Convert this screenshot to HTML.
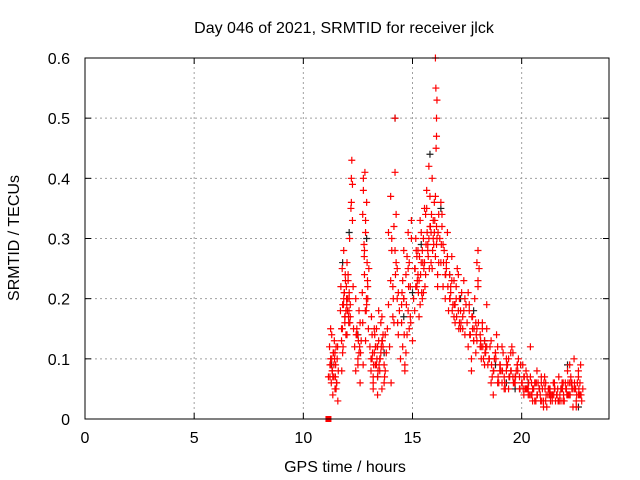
<!DOCTYPE html>
<html><head><meta charset="utf-8"><style>
body{margin:0;background:#fff}
svg{display:block;font-family:"Liberation Sans",sans-serif}
</style></head><body>
<svg id="chart" width="640" height="480">
<rect width="640" height="480" fill="#fff"/>
<text x="344" y="33" font-size="16" text-anchor="middle" fill="#000">Day 046 of 2021, SRMTID for receiver jlck</text>
<text x="345" y="472" font-size="16" text-anchor="middle">GPS time / hours</text>
<text transform="translate(19,238) rotate(-90)" font-size="16" text-anchor="middle">SRMTID / TECUs</text>
<g id="grid"></g><g id="ticks"></g><g id="marks"></g>
<rect x="85" y="58" width="524" height="361" fill="none" stroke="#000" stroke-width="1"/>
</svg>
<script>
const xTicks=[0,5,10,15,20];
const yTicks=[0,0.1,0.2,0.3,0.4,0.5,0.6];
const yTickLabels=["0","0.1","0.2","0.3","0.4","0.5","0.6"];
const redTimes=[11.15,11.2,11.22,11.25,11.28,11.3,11.32,11.35,11.38,11.4,11.42,11.45,11.48,11.5,11.52,11.55,11.58,11.6,11.3,11.35,11.45,11.5,11.25,11.4,
11.7,11.72,11.75,11.78,11.8,11.82,11.85,11.88,11.9,11.92,11.95,11.98,12.0,12.02,12.05,12.08,12.1,12.12,12.15,12.18,12.2,12.22,12.25,12.28,12.3,11.75,11.85,11.95,12.05,12.15,12.2,12.25,11.8,11.9,12.0,12.1,
12.35,12.4,12.45,12.5,12.55,12.6,12.65,12.4,12.5,12.6,12.45,12.55,
12.7,12.72,12.75,12.78,12.8,12.82,12.85,12.88,12.9,12.92,12.95,12.98,13.0,12.75,12.85,12.95,12.8,12.9,12.72,12.85,
13.05,13.1,13.15,13.2,13.25,13.3,13.35,13.4,13.45,13.5,13.55,13.6,13.65,13.7,13.75,13.8,13.1,13.2,13.3,13.4,13.5,13.6,13.7,13.15,13.25,13.35,13.45,13.55,13.65,13.75,13.2,13.4,13.6,
13.85,13.9,13.95,14.0,14.05,14.1,14.15,14.2,14.25,14.3,14.35,14.4,13.9,14.0,14.1,14.2,14.3,14.05,14.15,14.25,14.35,14.2,
14.45,14.5,14.55,14.6,14.65,14.7,14.75,14.8,14.85,14.9,14.95,15.0,14.5,14.6,14.7,14.8,14.9,14.55,14.65,14.75,14.85,14.95,14.6,14.8,
15.05,15.1,15.15,15.2,15.25,15.3,15.35,15.4,15.45,15.5,15.55,15.6,15.65,15.7,15.75,15.8,15.85,15.9,15.95,16.0,16.05,16.1,16.15,16.2,15.1,15.2,15.3,15.4,15.5,15.6,15.7,15.8,15.9,16.0,16.1,16.2,15.15,15.35,15.55,15.75,15.95,16.15,15.25,15.45,15.65,15.85,16.05,
16.05,16.07,16.1,16.1,16.12,16.08,
16.25,16.3,16.35,16.4,16.45,16.5,16.55,16.6,16.65,16.7,16.75,16.8,16.85,16.9,16.95,17.0,17.05,17.1,17.15,17.2,17.25,17.3,17.35,17.4,17.45,16.3,16.4,16.5,16.6,16.7,16.8,16.9,17.0,17.1,17.2,17.3,17.4,16.35,16.55,16.75,16.95,17.15,17.35,
17.5,17.55,17.6,17.65,17.7,17.75,17.8,17.85,17.9,17.95,18.0,18.05,18.1,18.15,18.2,18.25,18.3,18.35,18.4,18.45,17.6,17.7,17.8,17.9,18.0,18.1,18.2,18.3,18.4,17.95,18.0,18.4,17.55,17.75,17.95,18.15,18.35,
18.5,18.6,18.7,18.8,18.9,19.0,19.1,19.2,19.3,19.4,19.5,19.6,19.7,19.8,19.9,18.55,18.65,18.75,18.85,18.95,19.05,19.15,19.25,19.35,19.45,19.55,19.65,19.75,19.85,19.95,18.6,18.8,19.0,19.2,19.4,19.6,19.8,18.7,18.9,19.1,19.3,19.5,19.7,19.9,
20.0,20.1,20.2,20.3,20.4,20.5,20.6,20.7,20.8,20.9,21.0,21.1,21.2,21.3,21.4,21.5,21.6,21.7,21.8,21.9,22.0,22.1,22.2,22.3,22.4,22.5,22.6,22.7,22.8,20.05,20.15,20.25,20.35,20.45,20.55,20.65,20.75,20.85,20.95,21.05,21.15,21.25,21.35,21.45,21.55,21.65,21.75,21.85,21.95,22.05,22.15,22.25,22.35,22.45,22.55,22.65,22.75,20.1,20.3,20.5,20.7,20.9,21.1,21.3,21.5,21.7,21.9,22.1,22.3,22.5,22.7,20.2,20.6,21.0,21.4,21.8,22.2,22.6,20.2,20.4,22.2,22.4,22.6,
11.22,11.33,11.43,11.53,11.27,11.37,11.47,11.57,11.76,11.84,11.91,11.97,12.03,12.09,11.79,11.87,11.93,11.99,12.07,12.13,12.42,12.52,12.62,12.48,12.58,12.74,12.84,12.94,12.79,12.89,
13.12,13.22,13.32,13.42,13.52,13.62,13.72,13.17,13.27,13.37,13.47,13.57,14.02,14.12,14.22,14.32,14.52,14.62,14.72,14.82,14.92,
15.12,15.22,15.32,15.42,15.52,15.62,15.72,15.82,15.92,16.02,16.12,15.17,15.27,15.37,15.47,15.57,15.67,15.77,15.87,15.97,16.17,16.32,16.42,16.52,16.62,16.72,16.82,16.92,17.02,17.12,17.22,
17.62,17.72,17.82,17.92,18.02,18.12,18.22,18.32,18.52,18.62,18.72,18.82,18.92,19.02,19.12,19.22,19.32,19.42,19.52,19.62,19.72,19.82,19.92,
20.02,20.12,20.22,20.32,20.42,20.52,20.62,20.72,20.82,20.92,21.02,21.12,21.22,21.32,21.42,21.52,21.62,21.72,21.82,21.92,22.02,22.12,22.22,22.32,22.42,22.52,22.62,22.72,20.07,20.27,20.47,20.67,20.87,21.07,21.27,21.47,21.67,21.87,22.07,22.27,22.47,22.67];
const redValues=[0.07,0.12,0.09,0.15,0.06,0.1,0.08,0.04,0.11,0.07,0.13,0.05,0.09,0.12,0.06,0.1,0.03,0.08,0.14,0.07,0.11,0.05,0.1,0.09,
0.18,0.22,0.15,0.25,0.19,0.12,0.28,0.21,0.17,0.24,0.14,0.2,0.26,0.18,0.23,0.16,0.21,0.3,0.19,0.35,0.4,0.43,0.33,0.22,0.15,0.13,0.2,0.18,0.24,0.17,0.36,0.39,0.11,0.16,0.14,0.2,
0.12,0.08,0.15,0.1,0.18,0.06,0.13,0.2,0.09,0.16,0.14,0.11,
0.21,0.34,0.38,0.29,0.24,0.41,0.31,0.18,0.36,0.26,0.2,0.15,0.25,0.4,0.33,0.22,0.28,0.19,0.16,0.13,
0.12,0.08,0.14,0.06,0.11,0.09,0.15,0.07,0.13,0.1,0.16,0.05,0.12,0.09,0.14,0.11,0.1,0.07,0.12,0.04,0.08,0.13,0.06,0.1,0.15,0.09,0.18,0.11,0.14,0.08,0.05,0.12,0.17,
0.15,0.19,0.12,0.23,0.28,0.17,0.32,0.5,0.26,0.2,0.14,0.18,0.31,0.37,0.22,0.41,0.25,0.3,0.16,0.34,0.21,0.28,
0.1,0.16,0.12,0.2,0.08,0.24,0.14,0.18,0.26,0.22,0.3,0.13,0.19,0.28,0.11,0.31,0.17,0.23,0.09,0.27,0.15,0.33,0.2,0.25,
0.2,0.25,0.3,0.22,0.28,0.17,0.33,0.26,0.2,0.3,0.35,0.24,0.38,0.29,0.42,0.32,0.26,0.4,0.3,0.36,0.27,0.32,0.24,0.34,0.18,0.27,0.23,0.31,0.21,0.34,0.28,0.37,0.25,0.31,0.29,0.26,0.22,0.19,0.26,0.3,0.33,0.22,0.24,0.28,0.35,0.31,0.37,
0.6,0.55,0.5,0.47,0.53,0.45,
0.3,0.26,0.34,0.22,0.28,0.2,0.25,0.31,0.18,0.24,0.21,0.27,0.19,0.23,0.16,0.22,0.25,0.18,0.2,0.15,0.21,0.17,0.23,0.14,0.19,0.36,0.29,0.24,0.27,0.2,0.23,0.17,0.2,0.24,0.18,0.15,0.2,0.32,0.26,0.22,0.19,0.16,0.18,
0.16,0.12,0.19,0.14,0.1,0.17,0.13,0.2,0.11,0.15,0.28,0.25,0.14,0.12,0.16,0.1,0.13,0.11,0.15,0.09,0.18,0.08,0.13,0.16,0.22,0.12,0.15,0.09,0.19,0.26,0.23,0.12,0.21,0.15,0.13,0.1,0.12,
0.1,0.13,0.08,0.11,0.06,0.09,0.12,0.07,0.1,0.05,0.08,0.11,0.06,0.09,0.07,0.12,0.07,0.1,0.14,0.06,0.08,0.11,0.05,0.09,0.07,0.12,0.06,0.08,0.1,0.09,0.06,0.11,0.08,0.05,0.1,0.07,0.09,0.04,0.12,0.06,0.08,0.11,0.07,0.05,
0.06,0.04,0.08,0.05,0.07,0.03,0.06,0.04,0.05,0.07,0.03,0.06,0.04,0.05,0.03,0.06,0.04,0.07,0.05,0.03,0.06,0.08,0.04,0.06,0.05,0.03,0.07,0.04,0.05,0.09,0.05,0.07,0.04,0.06,0.05,0.03,0.06,0.04,0.05,0.07,0.02,0.05,0.04,0.06,0.03,0.05,0.04,0.06,0.03,0.05,0.04,0.07,0.02,0.05,0.06,0.04,0.03,0.07,0.04,0.05,0.08,0.06,0.03,0.04,0.05,0.03,0.06,0.04,0.05,0.02,0.09,0.05,0.03,0.02,0.04,0.03,0.06,0.04,0.05,0.12,0.09,0.1,0.08,0.07,
0.08,0.1,0.06,0.09,0.11,0.07,0.12,0.08,0.19,0.17,0.22,0.2,0.18,0.15,0.21,0.23,0.19,0.17,0.16,0.14,0.13,0.11,0.14,0.12,0.09,0.18,0.23,0.27,0.2,0.17,
0.09,0.12,0.08,0.1,0.13,0.07,0.11,0.14,0.1,0.09,0.12,0.06,0.2,0.24,0.16,0.21,0.14,0.19,0.22,0.16,0.25,
0.23,0.27,0.21,0.25,0.29,0.27,0.32,0.28,0.33,0.3,0.28,0.21,0.24,0.26,0.22,0.31,0.25,0.34,0.29,0.31,0.29,0.26,0.24,0.22,0.2,0.18,0.19,0.17,0.15,0.16,0.14,
0.17,0.15,0.14,0.16,0.13,0.12,0.11,0.1,0.09,0.08,0.1,0.07,0.09,0.08,0.06,0.09,0.07,0.08,0.06,0.07,0.08,0.05,0.06,
0.07,0.05,0.06,0.04,0.05,0.06,0.04,0.05,0.03,0.06,0.04,0.05,0.03,0.04,0.05,0.04,0.03,0.05,0.04,0.05,0.06,0.04,0.05,0.06,0.04,0.05,0.04,0.05,0.05,0.04,0.06,0.03,0.05,0.04,0.04,0.03,0.05,0.04,0.06,0.05,0.06,0.04];
const blackTimes=[11.3,11.8,12.1,12.5,12.9,13.4,13.7,14.2,14.6,15.0,15.4,15.8,16.3,16.7,17.2,17.8,18.3,18.8,19.3,19.7,20.3,20.8,21.3,21.8,22.1,22.6];
const blackValues=[0.09,0.26,0.31,0.14,0.3,0.07,0.11,0.5,0.17,0.21,0.29,0.44,0.35,0.24,0.2,0.18,0.13,0.09,0.06,0.05,0.06,0.05,0.04,0.05,0.09,0.02];
const zeroTimes=[11.15];
const zeroValues=[0];

const NS='http://www.w3.org/2000/svg';
const X0=85,X1=609,Y0=419,Y1=58;
const xs=t=>X0+(X1-X0)*t/24;
const ys=v=>Y0-(Y0-Y1)*v/0.6;
function mk(tag,attrs,parent){const e=document.createElementNS(NS,tag);for(const k in attrs)e.setAttribute(k,attrs[k]);parent.appendChild(e);return e;}
const grid=document.getElementById('grid'),ticks=document.getElementById('ticks'),marks=document.getElementById('marks');
xTicks.forEach(t=>{
  const x=xs(t);
  if(t>0){const g=mk('line',{x1:x,x2:x,y1:Y0,y2:Y1,stroke:'#a0a0a0','stroke-dasharray':'2,3'},grid);
  
  }
  const a=mk('line',{x1:x,x2:x,y1:Y0,y2:Y0-6,stroke:'#000'},ticks);
  
  
  mk('line',{x1:x,x2:x,y1:Y1,y2:Y1+6,stroke:'#000'},ticks);
  const l=mk('text',{x:x,y:443,'font-size':16,'text-anchor':'middle'},ticks);l.textContent=t;
  
  
});
yTicks.forEach((v,i)=>{
  const y=ys(v);
  if(i>0&&i<yTicks.length-1){const g=mk('line',{x1:X0,x2:X1,y1:y,y2:y,stroke:'#a0a0a0','stroke-dasharray':'2,3'},grid);
  
  }
  const a=mk('line',{x1:X0,x2:X0+6,y1:y,y2:y,stroke:'#000'},ticks);
  
  
  mk('line',{x1:X1,x2:X1-6,y1:y,y2:y,stroke:'#000'},ticks);
  const l=mk('text',{x:70,y:y+6,'font-size':16,'text-anchor':'end'},ticks);l.textContent=yTickLabels[i];
  
  
});
function plus(t,v,col,name){
  const x=xs(t),y=ys(v);
  const p=mk('path',{d:`M${x-3.5},${y}h7M${x},${y-3.5}v7`,stroke:col,'stroke-width':1.2,fill:'none'},marks);
  
  
}
blackTimes.forEach((t,i)=>plus(t,blackValues[i],'#202020','black-point'));
redTimes.forEach((t,i)=>plus(t,redValues[i],'#ff0000','red-point'));
zeroTimes.forEach((t,i)=>{
  const r=mk('rect',{x:xs(t)-3,y:ys(zeroValues[i])-3,width:6,height:6,fill:'#ff0000'},marks);
  
  
});
</script>
</body></html>
